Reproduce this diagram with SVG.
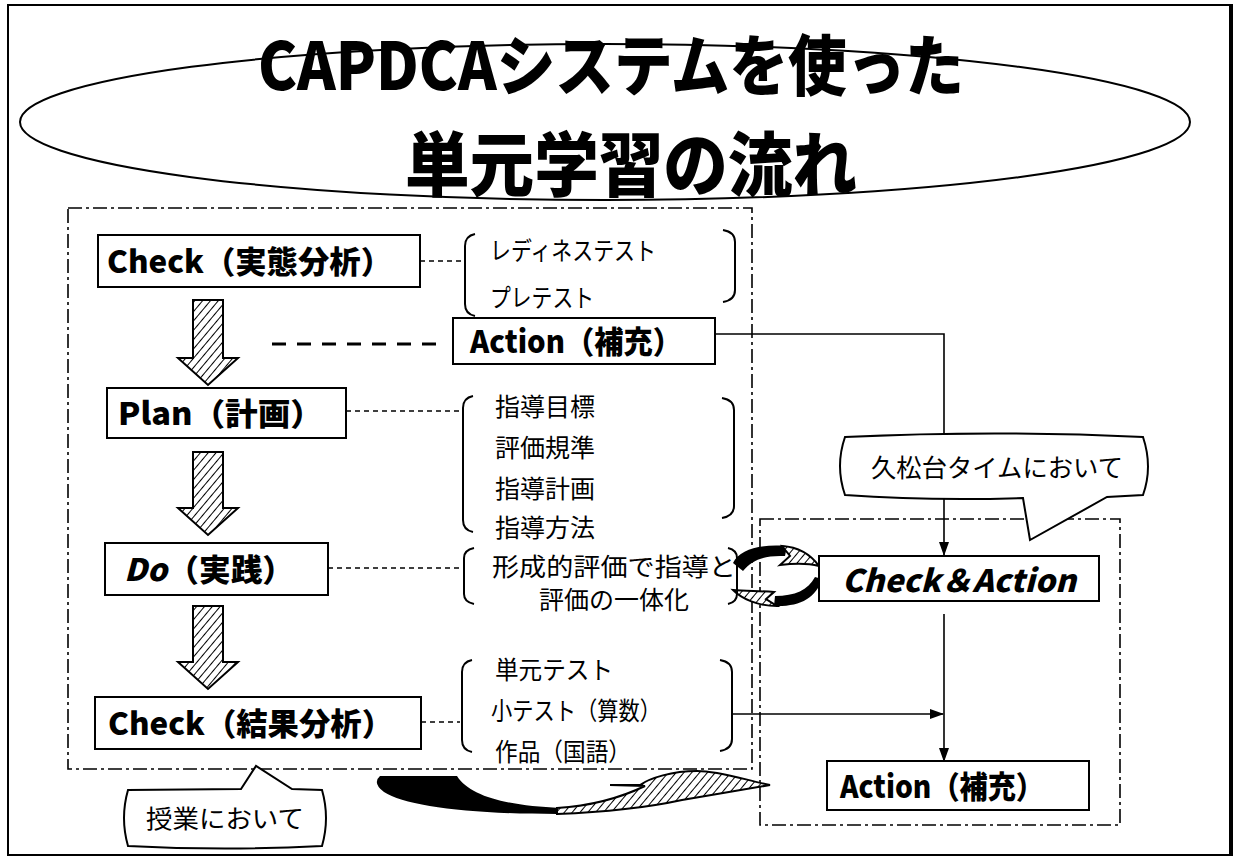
<svg xmlns="http://www.w3.org/2000/svg" width="1236" height="861" viewBox="0 0 1236 861">
<defs>
<pattern id="hatch" width="6" height="6" patternUnits="userSpaceOnUse" patternTransform="rotate(40)">
<rect width="6" height="6" fill="#fff"/><line x1="0" y1="0" x2="0" y2="6" stroke="#000" stroke-width="2"/>
</pattern>
<marker id="arr" markerWidth="14" markerHeight="12" refX="13" refY="6" orient="auto" markerUnits="userSpaceOnUse"><path d="M0,1 L14,6 L0,11 Z" fill="#000"/></marker>
<style>
.box{fill:#fff;stroke:#000;stroke-width:2}
.lbl{font-family:"Noto Sans CJK JP","Noto Sans CJK SC",sans-serif;font-weight:900;font-size:31px;fill:#000}
.t{font-family:"Noto Sans CJK JP","Noto Sans CJK SC",sans-serif;font-size:25px;fill:#000}
.ttl{font-family:"Noto Sans CJK JP","Noto Sans CJK SC",sans-serif;font-weight:900;fill:#000}
.frame{fill:none;stroke:#000;stroke-width:1.6;stroke-dasharray:14 4 3 4}
.dash{stroke:#000;stroke-width:1.5;stroke-dasharray:5 4;fill:none}
.thick{stroke:#000;stroke-width:3;stroke-dasharray:14 11;fill:none}
.br{fill:none;stroke:#000;stroke-width:2}
.hat{fill:url(#hatch);stroke:#000;stroke-width:2}
.ln{fill:none;stroke:#000;stroke-width:1.6}
.co{fill:#fff;stroke:#000;stroke-width:2}
</style>
</defs>
<rect x="0" y="0" width="1236" height="861" fill="#fff"/>
<rect x="8" y="5" width="1224" height="850" fill="none" stroke="#000" stroke-width="2"/>
<line x1="1231" y1="5" x2="1231" y2="855" stroke="#000" stroke-width="4"/>

<g id="title">
<ellipse cx="605" cy="122" rx="585" ry="78" fill="#fff" stroke="#000" stroke-width="2"/>
<text class="ttl" x="611" y="90" font-size="66" text-anchor="middle" textLength="706" lengthAdjust="spacingAndGlyphs">CAPDCAシステムを使った</text>
<text class="ttl" x="631" y="191" font-size="70" text-anchor="middle" textLength="452" lengthAdjust="spacingAndGlyphs">単元学習の流れ</text>
</g>

<g id="frames">
<rect class="frame" x="68" y="208" width="684" height="561"/>
<rect class="frame" x="760" y="519" width="360" height="306"/>
</g>

<g id="connectors">
<line class="dash" x1="420" y1="261" x2="463" y2="261"/>
<line class="thick" x1="272" y1="344" x2="436" y2="344"/>
<line class="dash" x1="346" y1="411" x2="460" y2="411"/>
<line class="dash" x1="328" y1="568" x2="460" y2="568"/>
<line class="dash" x1="421" y1="722" x2="460" y2="722"/>
<path class="ln" d="M715,334 H944 V555" marker-end="url(#arr)"/>
<path class="ln" d="M944,614 V761" marker-end="url(#arr)"/>
<path class="ln" d="M733,714 H943" marker-end="url(#arr)"/>
<path class="hat" d="M193,300 H223 V358 H238 L208,385 L178,358 H193 Z"/>
<path class="hat" d="M193,452 H223 V508 H238 L208,535 L178,508 H193 Z"/>
<path class="hat" d="M193,606 H223 V662 H238 L208,689 L178,662 H193 Z"/>
<path d="M733,563 C740,549 760,544 787,546 L785,556 C765,555 752,560 743,571 Z" fill="#000"/>
<path class="hat" stroke-width="1.5" d="M782,546 C798,547 811,555 819,566 C808,563 795,563 780,565 L790,556 Z"/>
<path d="M822,579 C816,598 800,607 774,606 L775,596 C795,596 808,590 815,577 Z" fill="#000"/>
<path class="hat" stroke-width="1.5" d="M777,606 C758,606 742,599 733,590 C745,591 760,591 774,592 L766,599 Z"/>
<path d="M380,776 L457,776 C470,797 510,806 560,808 L557,814 C470,814 405,806 384,792 Q372,783 380,776 Z" fill="#000"/>
<path class="hat" stroke-width="1.5" d="M557,814 C610,812 650,807 682,800 C712,795 740,790 770,785 C745,780 720,771 697,771 C672,771 650,778 640,785 L610,785 L645,786 C620,798 590,806 557,808 Z"/>
</g>

<g id="check1">
<rect class="box" x="98" y="235" width="322" height="52"/>
<text class="lbl" x="107" y="273" textLength="285" lengthAdjust="spacingAndGlyphs">Check（実態分析）</text>
</g>
<g id="readiness">
<path class="br" d="M475,234 Q465,236 465,246 V304 Q465,314 475,316"/>
<path class="br" d="M723,230 Q735,232 735,242 V290 Q735,300 723,302"/>
<text class="t" x="490" y="260" textLength="166" lengthAdjust="spacingAndGlyphs">レディネステスト</text>
<text class="t" x="490" y="307" textLength="104" lengthAdjust="spacingAndGlyphs">プレテスト</text>
</g>
<g id="action1">
<rect class="box" x="453" y="318" width="262" height="46"/>
<text class="lbl" x="470" y="353" textLength="212" lengthAdjust="spacingAndGlyphs">Action（補充）</text>
</g>
<g id="plan">
<rect class="box" x="107" y="388" width="239" height="50"/>
<text class="lbl" x="118" y="425" textLength="205" lengthAdjust="spacingAndGlyphs">Plan（計画）</text>
</g>
<g id="plan-items">
<path class="br" d="M473,396 Q463,398 463,408 V520 Q463,530 473,532"/>
<path class="br" d="M722,398 Q734,400 734,410 V506 Q734,516 722,518"/>
<text class="t" x="495" y="416">指導目標</text>
<text class="t" x="495" y="457">評価規準</text>
<text class="t" x="495" y="498">指導計画</text>
<text class="t" x="495" y="537">指導方法</text>
</g>
<g id="do">
<rect class="box" x="105" y="543" width="223" height="52"/>
<text class="lbl" x="124" y="581" textLength="170" lengthAdjust="spacingAndGlyphs"><tspan font-style="italic">Do</tspan>（実践）</text>
</g>
<g id="do-items">
<path class="br" d="M474,548 Q464,550 464,558 V594 Q464,602 474,604"/>
<path class="br" d="M728,548 Q737,550 737,558 V594 Q737,602 728,604"/>
<text class="t" x="614" y="576" text-anchor="middle" textLength="244" lengthAdjust="spacingAndGlyphs">形成的評価で指導と</text>
<text class="t" x="614" y="609" text-anchor="middle" textLength="150" lengthAdjust="spacingAndGlyphs">評価の一体化</text>
</g>
<g id="check2">
<rect class="box" x="95" y="697" width="326" height="52"/>
<text class="lbl" x="108" y="735" textLength="285" lengthAdjust="spacingAndGlyphs">Check（結果分析）</text>
</g>
<g id="test-items">
<path class="br" d="M472,660 Q462,662 462,672 V740 Q462,750 472,752"/>
<path class="br" d="M720,660 Q732,662 732,672 V739 Q732,749 720,751"/>
<text class="t" x="495" y="679" textLength="118" lengthAdjust="spacingAndGlyphs">単元テスト</text>
<text class="t" x="491" y="720" textLength="170" lengthAdjust="spacingAndGlyphs">小テスト（算数）</text>
<text class="t" x="495" y="761" textLength="136" lengthAdjust="spacingAndGlyphs">作品（国語）</text>
</g>
<g id="callout-time">
<path class="co" d="M845,437 Q995,430 1143,437 Q1153,467 1143,495 L1107,497 L1030,540 L1023,498 Q930,501 845,495 Q835,466 845,437 Z"/>
<text class="t" x="997" y="477" text-anchor="middle" textLength="252" lengthAdjust="spacingAndGlyphs">久松台タイムにおいて</text>
</g>
<g id="check-action">
<rect class="box" x="819" y="556" width="280" height="45"/>
<text class="lbl" x="842" y="592" font-style="italic" textLength="234" lengthAdjust="spacingAndGlyphs">Check＆Action</text>
</g>
<g id="action2">
<rect class="box" x="827" y="761" width="262" height="49"/>
<text class="lbl" x="840" y="798" textLength="204" lengthAdjust="spacingAndGlyphs">Action（補充）</text>
</g>
<g id="callout-class">
<path class="co" d="M128,790 L241,789 L256,766 L292,789 L322,790 Q330,818 322,846 Q225,851 128,846 Q120,818 128,790 Z"/>
<text class="t" x="225" y="828" text-anchor="middle" textLength="158" lengthAdjust="spacingAndGlyphs">授業において</text>
</g>
</svg>
